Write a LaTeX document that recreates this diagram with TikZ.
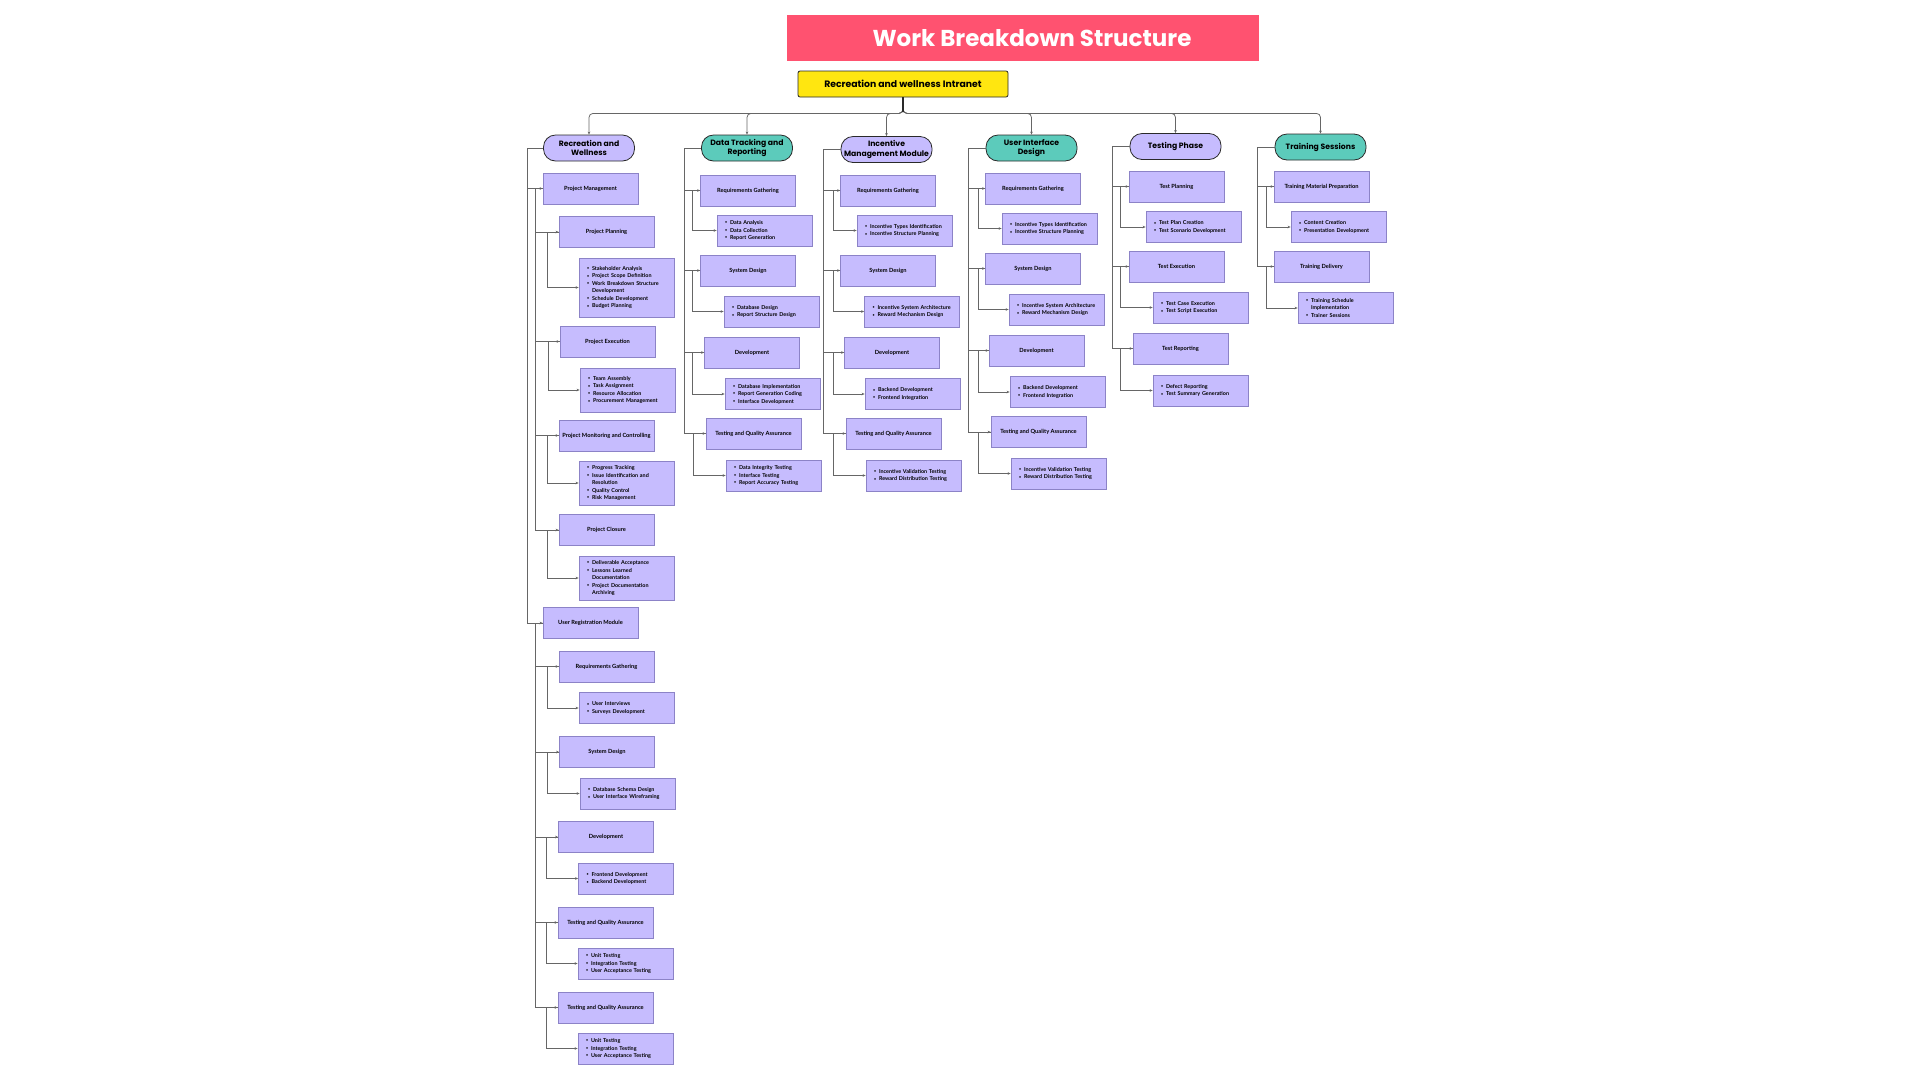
\documentclass[tikz,border=0pt]{standalone}
\usepackage{fontspec}
\setmainfont{Lato}
\newfontfamily\popp{Poppins}
\usetikzlibrary{arrows.meta}

\definecolor{titlered}{HTML}{FF5270}
\definecolor{rooty}{HTML}{FFE610}
\definecolor{lav}{HTML}{C6BCFE}
\definecolor{lavline}{HTML}{8C83C7}
\definecolor{mint}{HTML}{5CCBBB}
\definecolor{ink}{HTML}{2A2A2A}
\definecolor{linkgray}{HTML}{666666}

% one bullet line, and a continued (indented) line of a bullet
\newcommand\dotmark{\raisebox{0.6pt}{\fontsize{3.6}{3.6}\selectfont\textbullet}}
\newcommand\bul[1]{\makebox[5pt][l]{\dotmark}#1}
\newcommand\cnt[1]{\hspace*{5pt}#1}
% elbow connector: leave parent on the left, run down a trunk, enter child from the left
\newcommand\lnk[3]{\draw[link] (#1.west) -- ++(-#3,0) |- (#2.west);}

\begin{document}
\begin{tikzpicture}[x=1pt,y=-1pt,
  box/.style={draw=lavline, line width=0.8pt, fill=lav, minimum width=95pt,
    minimum height=31pt, inner sep=0pt, align=center,
    font=\fontsize{5.7}{7.5}\selectfont\bfseries},
  lst/.style={box, text width=79pt, inner xsep=8pt, align=left,
    font=\fontsize{5.4}{7.5}\selectfont\bfseries},
  hdr/.style={draw=ink, line width=0.8pt, rounded corners=12pt, minimum width=91pt,
    minimum height=26pt, inner sep=0pt, align=center,
    font=\popp\bfseries\fontsize{7.7}{9.2}\selectfont},
  hp/.style={hdr, fill=lav},
  ht/.style={hdr, fill=mint},
  link/.style={draw=linkgray, line width=0.75pt, -{Stealth[length=3pt,width=2.6pt]}},
  bus/.style={link, rounded corners=4pt}]
\useasboundingbox[fill=white] (0,0) rectangle (1920,1080);

% title and root
\node[fill=titlered, minimum width=472pt, minimum height=46pt, inner sep=0pt, text=white,
  font=\popp\bfseries\fontsize{23}{26}\selectfont] (title) at (1023,38)
  {\hspace*{18pt}Work Breakdown Structure};
\node[draw=ink, line width=0.8pt, fill=rooty, rounded corners=2pt, minimum width=210pt,
  minimum height=26pt, inner sep=0pt, font=\popp\bfseries\fontsize{9.3}{11}\selectfont]
  (root) at (903,84) {Recreation and wellness Intranet};

% phase headers
\node[hp] (h1) at (589,148)    {Recreation and\\Wellness};
\node[ht] (h2) at (747,148)    {Data Tracking and\\Reporting};
\node[hp] (h3) at (886.5,149.5){Incentive\\Management Module};
\node[ht] (h4) at (1031.5,148) {User Interface\\Design};
\node[hp] (h5) at (1175.5,146.5){Testing Phase};
\node[ht] (h6) at (1320.5,147) {Training Sessions};

\foreach \h in {h1,h2,h3,h4,h5,h6}
  \draw[bus] (root.south) -- ++(0,16) -| (\h.north);
\draw[ink, line width=1.6pt] (root.south) -- ++(0,15);

% ---------- Recreation and Wellness ----------
\node[box] (pm)  at (590.5,188.5) {Project Management};
\node[box] (pp)  at (606.5,232)   {Project Planning};
\node[lst, minimum height=59pt] (ppL) at (626.5,287.5)
  {\bul{Stakeholder Analysis}\\\bul{Project Scope Definition}\\\bul{Work Breakdown Structure}\\\cnt{Development}\\\bul{Schedule Development}\\\bul{Budget Planning}};
\node[box] (pe)  at (607.5,341.5) {Project Execution};
\node[lst, minimum height=44pt] (peL) at (627.5,390)
  {\bul{Team Assembly}\\\bul{Task Assignment}\\\bul{Resource Allocation}\\\bul{Procurement Management}};
\node[box] (pmc) at (606.5,435.5) {Project Monitoring and Controlling};
\node[lst, minimum height=44pt] (pmcL) at (626.5,483)
  {\bul{Progress Tracking}\\\bul{Issue Identification and}\\\cnt{Resolution}\\\bul{Quality Control}\\\bul{Risk Management}};
\node[box] (pc)  at (606.5,530)   {Project Closure};
\node[lst, minimum height=44pt] (pcL) at (626.5,578)
  {\bul{Deliverable Acceptance}\\\bul{Lessons Learned}\\\cnt{Documentation}\\\bul{Project Documentation}\\\cnt{Archiving}};

\node[box] (urm) at (590.5,623)   {User Registration Module};
\node[box] (rg1) at (606.5,666.5) {Requirements Gathering};
\node[lst] (rg1L) at (626.5,708)  {\bul{User Interviews}\\\bul{Surveys Development}};
\node[box] (sd1) at (607,752)     {System Design};
\node[lst] (sd1L) at (627.5,793.5){\bul{Database Schema Design}\\\bul{User Interface Wireframing}};
\node[box] (dv1) at (606,837)     {Development};
\node[lst] (dv1L) at (626,878.5)  {\bul{Frontend Development}\\\bul{Backend Development}};
\node[box] (tq1) at (605.5,922.5) {Testing and Quality Assurance};
\node[lst] (tq1L) at (625.5,963.5){\bul{Unit Testing}\\\bul{Integration Testing}\\\bul{User Acceptance Testing}};
\node[box] (tq1b) at (605.5,1007.5){Testing and Quality Assurance};
\node[lst] (tq1bL) at (625.5,1048.5){\bul{Unit Testing}\\\bul{Integration Testing}\\\bul{User Acceptance Testing}};

\lnk{h1}{pm}{16}  \lnk{h1}{urm}{16}
\foreach \c in {pp,pe,pmc,pc} {\lnk{pm}{\c}{7}}
\foreach \c in {rg1,sd1,dv1,tq1,tq1b} {\lnk{urm}{\c}{7}}
\foreach \c in {pp,pe,pmc,pc,rg1,sd1,dv1,tq1,tq1b} {\lnk{\c}{\c L}{11.5}}

% ---------- Data Tracking and Reporting ----------
\node[box] (rg2) at (748,190.5)   {Requirements Gathering};
\node[lst] (rg2L) at (764.5,230.5){\bul{Data Analysis}\\\bul{Data Collection}\\\bul{Report Generation}};
\node[box] (sd2) at (748,270.5)   {System Design};
\node[lst] (sd2L) at (771.5,311.5){\bul{Database Design}\\\bul{Report Structure Design}};
\node[box] (dv2) at (752,352.5)   {Development};
\node[lst] (dv2L) at (772.5,394)  {\bul{Database Implementation}\\\bul{Report Generation Coding}\\\bul{Interface Development}};
\node[box] (tq2) at (753.5,433.5) {Testing and Quality Assurance};
\node[lst] (tq2L) at (773.5,475.5){\bul{Data Integrity Testing}\\\bul{Interface Testing}\\\bul{Report Accuracy Testing}};

% ---------- Incentive Management Module ----------
\node[box] (rg3) at (888,190.5)   {Requirements Gathering};
\node[lst] (rg3L) at (904.5,230.5){\bul{Incentive Types Identification}\\\bul{Incentive Structure Planning}};
\node[box] (sd3) at (888,270.5)   {System Design};
\node[lst] (sd3L) at (912,311.5)  {\bul{Incentive System Architecture}\\\bul{Reward Mechanism Design}};
\node[box] (dv3) at (892,352.5)   {Development};
\node[lst] (dv3L) at (912.5,394)  {\bul{Backend Development}\\\bul{Frontend Integration}};
\node[box] (tq3) at (893.5,433.5) {Testing and Quality Assurance};
\node[lst] (tq3L) at (913.5,475.5){\bul{Incentive Validation Testing}\\\bul{Reward Distribution Testing}};

% ---------- User Interface Design ----------
\node[box] (rg4) at (1033,188.5)   {Requirements Gathering};
\node[lst] (rg4L) at (1049.5,228.5){\bul{Incentive Types Identification}\\\bul{Incentive Structure Planning}};
\node[box] (sd4) at (1033,268.5)   {System Design};
\node[lst] (sd4L) at (1056.5,309.5){\bul{Incentive System Architecture}\\\bul{Reward Mechanism Design}};
\node[box] (dv4) at (1036.5,350.5) {Development};
\node[lst] (dv4L) at (1057.5,392)  {\bul{Backend Development}\\\bul{Frontend Integration}};
\node[box] (tq4) at (1038.5,432)   {Testing and Quality Assurance};
\node[lst] (tq4L) at (1058.5,473.5){\bul{Incentive Validation Testing}\\\bul{Reward Distribution Testing}};

\foreach \n in {2,3,4} {
  \lnk{h\n}{rg\n}{17} \lnk{h\n}{sd\n}{17} \lnk{h\n}{dv\n}{17} \lnk{h\n}{tq\n}{17}
}
\lnk{rg2}{rg2L}{8} \lnk{sd2}{sd2L}{8} \lnk{dv2}{dv2L}{11.5} \lnk{tq2}{tq2L}{12}
\lnk{rg3}{rg3L}{7} \lnk{sd3}{sd3L}{7} \lnk{dv3}{dv3L}{11} \lnk{tq3}{tq3L}{12}
\lnk{rg4}{rg4L}{7} \lnk{sd4}{sd4L}{7} \lnk{dv4}{dv4L}{10} \lnk{tq4}{tq4L}{12}

% ---------- Testing Phase ----------
\node[box] (tp) at (1176.5,186.5)  {Test Planning};
\node[lst] (tpL) at (1193.5,227)   {\bul{Test Plan Creation}\\\bul{Test Scenario Development}};
\node[box] (te) at (1176.5,266.5)  {Test Execution};
\node[lst] (teL) at (1200.5,307.5) {\bul{Test Case Execution}\\\bul{Test Script Execution}};
\node[box] (tr) at (1180.5,348.5)  {Test Reporting};
\node[lst] (trL) at (1200.5,390.5) {\bul{Defect Reporting}\\\bul{Test Summary Generation}};
\lnk{h5}{tp}{17} \lnk{h5}{te}{17} \lnk{h5}{tr}{17}
\lnk{tp}{tpL}{8} \lnk{te}{teL}{8} \lnk{tr}{trL}{12}

% ---------- Training Sessions ----------
\node[box] (tm) at (1321.5,186.5)  {Training Material Preparation};
\node[lst] (tmL) at (1338.5,227)   {\bul{Content Creation}\\\bul{Presentation Development}};
\node[box] (td) at (1321.5,266.5)  {Training Delivery};
\node[lst] (tdL) at (1345.5,308)   {\bul{Training Schedule}\\\cnt{Implementation}\\\bul{Trainer Sessions}};
\lnk{h6}{tm}{17} \lnk{h6}{td}{17}
\lnk{tm}{tmL}{7} \lnk{td}{tdL}{7}
\end{tikzpicture}
\end{document}
